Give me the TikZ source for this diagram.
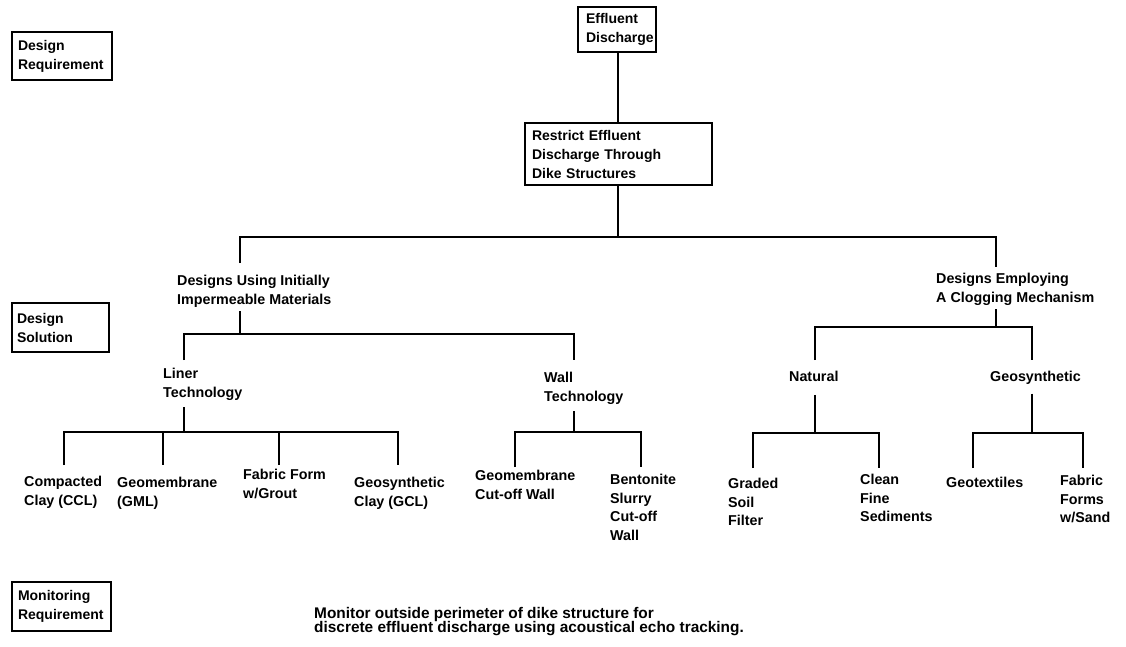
\documentclass[tikz,border=0pt]{standalone}
\usepackage{fontspec}
\setmainfont{Liberation Sans}
\usetikzlibrary{calc}
\tikzset{
  lbl/.style={anchor=north west, inner sep=0pt, align=left, font=\fontsize{14.3}{18.5}\selectfont\bfseries},
  box/.style={draw, line width=1.8pt, align=left, font=\fontsize{14}{19}\selectfont\bfseries, inner ysep=0pt},
  conn/.style={line width=1.6pt},
}
\begin{document}
\begin{tikzpicture}[x=1pt,y=-1pt]
\useasboundingbox (0,0) rectangle (1126,646);
% side boxes
\node[box, text width=88pt, inner xsep=6pt, minimum height=48pt] (dreq) at (62,56) {Design\\Requirement};
\node[box, text width=87pt, inner xsep=5pt, minimum height=49pt] (dsol) at (60.5,327.5) {Design\\Solution};
\node[box, text width=87pt, inner xsep=6pt, minimum height=49pt] (mreq) at (61.5,606.5) {Monitoring\\Requirement};
% top boxes
\node[box, text width=62pt, inner xsep=8pt, minimum height=45pt] (er) at (617,29.5) {Effluent\\Discharge};
\node[box, text width=173pt, inner xsep=7pt, minimum height=62pt] (rs) at (618.5,154) {Restrict Effluent\\Discharge Through\\Dike Structures};
% text nodes
\node[lbl] (dui) at (177,275) {Designs Using Initially\\Impermeable Materials};
\node[lbl] (dec) at (936,273) {Designs Employing\\A Clogging Mechanism};
\node[lbl] (liner) at (163,368) {Liner\\Technology};
\node[lbl] (wall) at (544,372) {Wall\\Technology};
\node[lbl] (nat) at (789,371) {Natural};
\node[lbl] (geo) at (990,371) {Geosynthetic};
\node[lbl] (ccl) at (24,476) {Compacted\\Clay (CCL)};
\node[lbl] (gml) at (117,477) {Geomembrane\\(GML)};
\node[lbl] (ffg) at (243,469) {Fabric Form\\w/Grout};
\node[lbl] (gcl) at (354,477) {Geosynthetic\\Clay (GCL)};
\node[lbl] (gcw) at (475,470) {Geomembrane\\Cut-off Wall};
\node[lbl] (bsc) at (610,474) {Bentonite\\Slurry\\Cut-off\\Wall};
\node[lbl] (gsf) at (728,478) {Graded\\Soil\\Filter};
\node[lbl] (cfs) at (860,474) {Clean\\Fine\\Sediments};
\node[lbl] (gtx) at (946,477) {Geotextiles};
\node[lbl] (ffs) at (1060,475) {Fabric\\Forms\\w/Sand};
\node[lbl, font=\fontsize{15.4}{14.5}\selectfont\bfseries] (mon) at (314,607) {Monitor outside perimeter of dike structure for\\discrete effluent discharge using acoustical echo tracking.};
% junction coordinates
\coordinate (j1) at (618,237); \coordinate (j1L) at (240,237); \coordinate (j1R) at (996,237);
\coordinate (j2) at (240,334); \coordinate (j2L) at (184,334); \coordinate (j2R) at (574,334);
\coordinate (j3) at (996,327); \coordinate (j3L) at (815,327); \coordinate (j3R) at (1032,327);
\coordinate (j4) at (184,432); \coordinate (c1) at (64,432); \coordinate (c2) at (163,432); \coordinate (c3) at (279,432); \coordinate (c4) at (398,432);
\coordinate (j5) at (574,432); \coordinate (c5) at (515,432); \coordinate (c6) at (641,432);
\coordinate (j6) at (815,433); \coordinate (c7) at (753,433); \coordinate (c8) at (879,433);
\coordinate (j7) at (1032,433); \coordinate (c9) at (973,433); \coordinate (c10) at (1083,433);
% connectors
\draw[conn] (er.south -| j1) -- (rs.north -| j1);
\draw[conn] (rs.south -| j1) -- (j1);
\draw[conn] ($(dui.north -| j1L)+(0,-12)$) |- (j1R) -- ($(dec.north -| j1R)+(0,-6)$);
\draw[conn] ($(dui.south -| j2)+(0,4)$) -- (j2);
\draw[conn] ($(liner.north -| j2L)+(0,-8)$) |- (j2R) -- ($(wall.north -| j2R)+(0,-12)$);
\draw[conn] ($(dec.south -| j3)+(0,4)$) -- (j3);
\draw[conn] ($(nat.north -| j3L)+(0,-11)$) |- (j3R) -- ($(geo.north -| j3R)+(0,-11)$);
\draw[conn] ($(liner.south -| j4)+(0,7)$) -- (j4);
\draw[conn] ($(ccl.north -| c1)+(0,-11)$) |- (c4) -- ($(gcl.north -| c4)+(0,-12)$);
\draw[conn] (c2) -- ($(gml.north -| c2)+(0,-12)$);
\draw[conn] (c3) -- ($(ffg.north -| c3)+(0,-4)$);
\draw[conn] ($(wall.south -| j5)+(0,7)$) -- (j5);
\draw[conn] ($(gcw.north -| c5)+(0,-3)$) |- (c6) -- ($(bsc.north -| c6)+(0,-7)$);
\draw[conn] ($(nat.south -| j6)+(0,13)$) -- (j6);
\draw[conn] ($(gsf.north -| c7)+(0,-10)$) |- (c8) -- ($(cfs.north -| c8)+(0,-6)$);
\draw[conn] ($(geo.south -| j7)+(0,9)$) -- (j7);
\draw[conn] ($(gtx.north -| c9)+(0,-9)$) |- (c10) -- ($(ffs.north -| c10)+(0,-7)$);
\end{tikzpicture}
\end{document}
